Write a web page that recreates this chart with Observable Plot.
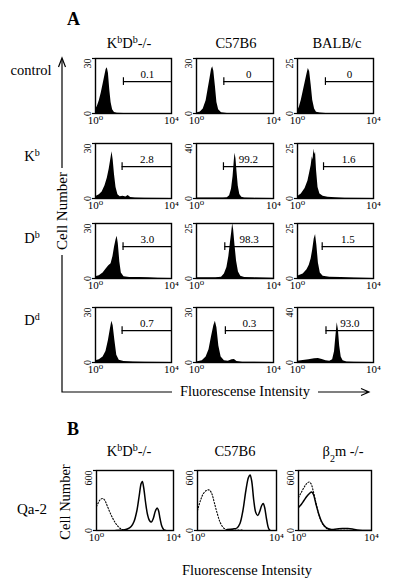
<!DOCTYPE html>
<html>
<head>
<meta charset="utf-8">
<script src="https://cdn.jsdelivr.net/npm/d3@7"></script>
<script src="https://cdn.jsdelivr.net/npm/@observablehq/plot@0.6"></script>
<style>
  body { margin: 0; background: white; }
  #fig { position: relative; width: 400px; height: 582px; background: white;
         font-family: "Liberation Serif", "DejaVu Serif", "Times New Roman", serif; color: black; }
  #ann { position: absolute; left: 0; top: 0; }
  .panel { position: absolute; }
  .panel svg { max-width: none; }
</style>
</head>
<body>
<div id="fig">
<svg id="ann" width="400" height="582" font-family="Liberation Serif, DejaVu Serif, Times New Roman, serif" fill="black">
  <text x="67" y="25" font-size="18" font-weight="bold">A</text>
  <text x="129" y="48" text-anchor="middle" font-size="14.5">K<tspan font-size="10" baseline-shift="super">b</tspan>D<tspan font-size="10" baseline-shift="super">b</tspan>-/-</text>
  <text x="236" y="48" text-anchor="middle" font-size="14.5">C57B6</text>
  <text x="337" y="48" text-anchor="middle" font-size="14.5">BALB/c</text>
  <text x="31" y="75" text-anchor="middle" font-size="14.5">control</text>
  <text x="32" y="161" text-anchor="middle" font-size="14.5">K<tspan font-size="10" baseline-shift="super">b</tspan></text>
  <text x="32" y="243" text-anchor="middle" font-size="14.5">D<tspan font-size="10" baseline-shift="super">b</tspan></text>
  <text x="32" y="325" text-anchor="middle" font-size="14.5">D<tspan font-size="10" baseline-shift="super">d</tspan></text>
  <path d="M62,59 V168 M62,255 V392 H172" stroke="black" stroke-width="1.2" fill="none"/>
  <path d="M58.5,67 L62,58 L65.5,67" stroke="black" stroke-width="1.2" fill="none"/>
  <text transform="translate(67,211) rotate(-90)" text-anchor="middle" font-size="15">Cell Number</text>
  <text x="180" y="396" font-size="14.5">Fluorescense Intensity</text>
  <path d="M318,392 H368 M361,388.5 L369,392 L361,395.5" stroke="black" stroke-width="1.2" fill="none"/>

  <text x="67" y="435" font-size="18" font-weight="bold">B</text>
  <text x="129" y="456" text-anchor="middle" font-size="14.5">K<tspan font-size="10" baseline-shift="super">b</tspan>D<tspan font-size="10" baseline-shift="super">b</tspan>-/-</text>
  <text x="235" y="456" text-anchor="middle" font-size="14.5">C57B6</text>
  <text x="343" y="456" text-anchor="middle" font-size="14.5">β<tspan font-size="10" baseline-shift="sub">2</tspan>m -/-</text>
  <text x="32" y="514" text-anchor="middle" font-size="15">Qa-2</text>
  <text transform="translate(70,502) rotate(-90)" text-anchor="middle" font-size="14.5">Cell Number</text>
  <text x="247" y="575" text-anchor="middle" font-size="14.5">Fluorescense Intensity</text>
</svg>
</div>
<script>
// ---------- Panel A data: x = log10 fluorescence (decades), y = cell number ----------
const strainsA = ["KbDb-/-", "C57B6", "BALB/c"];
const stainsA = ["control", "Kb", "Db", "Dd"];
const yMaxA = [[30, 30, 25], [30, 40, 25], [30, 25, 25], [30, 30, 40]];
const gatePctA = [["0.1", "0", "0"], ["2.8", "99.2", "1.6"], ["3.0", "98.3", "1.5"], ["0.7", "0.3", "93.0"]];
const gateStartA = [[1.47, 1.42, 1.47], [1.4, 1.4, 1.37], [1.45, 1.47, 1.3], [1.4, 1.5, 1.5]];

const hCtrlKbDb = [[0,2],[0.1,4],[0.2,7],[0.3,11],[0.4,16],[0.5,21],[0.56,24],[0.62,25],[0.68,22],[0.75,13],[0.82,6],[0.9,2],[1.0,0.6],[1.15,0.2],[1.5,0],[4,0]];
const hCtrlC57 = [[0,0.3],[0.2,0.8],[0.35,2.5],[0.5,7],[0.6,13],[0.7,19],[0.78,24],[0.84,25.5],[0.9,23],[0.98,15],[1.06,6],[1.15,2],[1.3,0.4],[1.6,0],[4,0]];
const hCtrlBALB = [[0,1],[0.1,3],[0.2,6],[0.3,10],[0.4,14],[0.5,18],[0.57,20.5],[0.64,19],[0.72,13],[0.8,6],[0.9,2],[1.0,0.6],[1.2,0.2],[1.5,0],[4,0]];
const hKbKbDb = [[0,1],[0.2,2],[0.35,3.5],[0.5,7],[0.62,11],[0.72,16],[0.8,21],[0.87,25.5],[0.93,21],[1.0,13],[1.08,6],[1.18,2],[1.3,1],[1.45,1.2],[1.6,0.8],[1.72,1.6],[1.85,0.6],[2.1,0.3],[2.6,0.1],[4,0]];
const hKbC57 = [[0,0.3],[0.8,0.3],[1.4,0.3],[1.6,0.6],[1.72,2],[1.82,7],[1.9,16],[1.96,27],[2.0,33],[2.05,29],[2.1,20],[2.17,9],[2.25,3],[2.35,1],[2.5,0.3],[3,0.1],[4,0]];
const hKbBALB = [[0,0.8],[0.2,2],[0.4,4.5],[0.55,8],[0.65,12],[0.72,15],[0.78,19],[0.82,17.5],[0.86,22.5],[0.9,20],[0.95,21],[1.0,13],[1.08,5],[1.18,2],[1.35,1],[1.6,0.6],[2,0.3],[2.5,0.1],[4,0]];
const hDbKbDb = [[0,1],[0.2,1.5],[0.4,3],[0.55,5],[0.7,7],[0.82,8],[0.92,12],[1.0,17],[1.08,21],[1.14,23],[1.2,19],[1.28,9],[1.36,3],[1.5,1],[1.8,0.6],[2.3,0.5],[2.8,0.4],[3.3,0.2],[4,0]];
const hDbC57 = [[0,0.3],[1.0,0.3],[1.3,0.6],[1.45,2],[1.58,5],[1.68,10],[1.76,16],[1.83,21],[1.88,25],[1.93,22],[2.0,15],[2.08,8],[2.18,3],[2.3,1],[2.5,0.5],[3,0.3],[4,0.1]];
const hDbBALB = [[0,1],[0.3,2],[0.5,4],[0.62,6],[0.72,9],[0.8,13],[0.88,18],[0.95,20],[1.02,15],[1.1,7],[1.2,2.5],[1.35,1],[1.7,0.6],[2.3,0.4],[3,0.2],[4,0]];
const hDdKbDb = [[0,1],[0.2,1.5],[0.4,3],[0.55,6],[0.68,12],[0.78,18],[0.86,22.5],[0.93,20],[1.02,12],[1.12,4],[1.25,1.2],[1.5,0.5],[2,0.3],[2.6,0.1],[4,0]];
const hDdC57 = [[0,0.3],[0.3,1],[0.5,3],[0.65,7],[0.78,14],[0.9,20],[0.98,22.5],[1.06,19],[1.16,9],[1.28,3],[1.45,1],[1.65,0.7],[1.85,1.5],[1.97,1.7],[2.1,0.6],[2.4,0.2],[4,0]];
const hDdBALB = [[0,1],[0.3,1.5],[0.6,2],[0.9,2.7],[1.1,3],[1.3,2.2],[1.5,1.2],[1.7,1],[1.85,2],[1.95,8],[2.02,19],[2.09,29],[2.15,24],[2.22,12],[2.3,4],[2.4,1.2],[2.6,0.4],[3,0.2],[4,0]];

const histA = [
  [hCtrlKbDb, hCtrlC57, hCtrlBALB],
  [hKbKbDb, hKbC57, hKbBALB],
  [hDbKbDb, hDbC57, hDbBALB],
  [hDdKbDb, hDdC57, hDdBALB]
];

// ---------- Panel B data: Qa-2 staining, solid = Qa-2, dotted = control ----------
const strainsB = ["KbDb-/-", "C57B6", "β2m -/-"];
const yMaxB = [600, 600, 600];
const qa2DotKbDb = [[0,240],[0.1,280],[0.2,310],[0.32,320],[0.42,305],[0.55,250],[0.7,180],[0.85,120],[1.0,70],[1.15,35],[1.3,12],[1.45,3],[1.6,0]];
const qa2SolidKbDb = [[1.0,0],[1.4,5],[1.6,15],[1.8,40],[1.95,90],[2.1,200],[2.22,350],[2.32,470],[2.38,490],[2.45,430],[2.55,280],[2.65,160],[2.75,100],[2.85,85],[2.95,120],[3.05,190],[3.15,225],[3.22,200],[3.3,120],[3.4,40],[3.5,8],[3.6,0]];
const qa2DotC57 = [[0,200],[0.15,300],[0.3,370],[0.45,400],[0.6,405],[0.72,370],[0.85,280],[1.0,170],[1.15,80],[1.3,30],[1.45,10],[1.6,5],[2.0,5],[2.3,5]];
const qa2SolidC57 = [[1.5,10],[1.8,15],[2.0,25],[2.15,70],[2.3,200],[2.45,400],[2.58,530],[2.66,555],[2.74,500],[2.85,300],[2.95,180],[3.05,150],[3.15,190],[3.25,250],[3.33,270],[3.4,230],[3.5,110],[3.6,20],[3.68,0]];
const qa2DotB2m = [[0,330],[0.15,380],[0.3,430],[0.45,470],[0.58,485],[0.68,470],[0.8,400],[0.95,280],[1.1,170],[1.25,90],[1.4,45],[1.6,15],[1.8,5],[2.2,3],[3,0]];
const qa2SolidB2m = [[0,230],[0.15,260],[0.3,300],[0.45,340],[0.6,370],[0.72,385],[0.82,360],[0.95,270],[1.1,170],[1.25,95],[1.4,50],[1.6,20],[1.8,10],[2.1,15],[2.4,20],[2.7,20],[2.95,15],[3.2,5],[3.5,0],[4,0]];
const qa2Solid = [qa2SolidKbDb, qa2SolidC57, qa2SolidB2m];
const qa2Dot = [qa2DotKbDb, qa2DotC57, qa2DotB2m];

const xTicks = [0, 4];
const xTickLabels = ["10⁰", "10⁴"];

// ---------- layout ----------
const FONT = '"Liberation Serif","DejaVu Serif","Times New Roman",serif';
const ML = 16, MR = 10, MT = 3, MB = 17;
const colLeftA = [95, 196, 297], colWA = [76, 77, 76];
const rowTopA = [58, 143, 223, 307], HA = 55;
const colLeftB = [96, 197, 298], colWB = [77, 79, 73];
const topB = 470, HB = 60;
const GATE_LEVEL = 0.58;

function histPanel({w, h, ymax, fill, lines = [], gate}) {
  const marks = [];
  if (fill) marks.push(Plot.areaY(fill, {x: p => p[0], y: p => p[1], fill: "black", clip: true}));
  for (const L of lines) {
    marks.push(Plot.line(L.data, {
      x: p => p[0], y: p => p[1], stroke: "black",
      strokeWidth: L.dashed ? 1.1 : 1.5,
      ...(L.dashed ? {strokeDasharray: "1.2,1.8"} : {}),
      curve: "catmull-rom", clip: true
    }));
  }
  marks.push(Plot.frame({stroke: "black", strokeWidth: 1.4}));
  // small outward tick marks at 0 and max on the left edge
  marks.push(Plot.tickY([0, ymax], {y: d => d, stroke: "black", strokeWidth: 1.2, frameAnchor: "left", insetLeft: -3, insetRight: w}));
  if (gate) {
    const g = [{x: gate.x, y: ymax * GATE_LEVEL, pct: gate.pct}];
    marks.push(Plot.ruleY(g, {y: d => d.y, x1: d => d.x, x2: () => 4, stroke: "black", strokeWidth: 1.2}));
    marks.push(Plot.ruleX(g, {x: d => d.x, y1: d => d.y - ymax * 0.07, y2: d => d.y + ymax * 0.07, stroke: "black", strokeWidth: 1.2}));
    marks.push(Plot.text(g, {x: d => (d.x + 4) / 2, y: d => d.y, text: d => d.pct, dy: -7, fontSize: 11, fontFamily: FONT}));
  }
  marks.push(Plot.text([ymax], {y: d => d, text: d => String(d), frameAnchor: "left", dx: -8, rotate: -90, textAnchor: "end", fontSize: 10, fontFamily: FONT}));
  marks.push(Plot.text([0], {y: d => d, text: d => String(d), frameAnchor: "left", dx: -8, rotate: -90, textAnchor: "middle", fontSize: 10, fontFamily: FONT}));
  marks.push(Plot.axisX({ticks: xTicks, tickFormat: d => xTickLabels[xTicks.indexOf(d)], tickSize: 0, tickPadding: 3, fontSize: 11, fontFamily: FONT}));
  return Plot.plot({
    width: w + ML + MR, height: h + MT + MB,
    marginLeft: ML, marginRight: MR, marginTop: MT, marginBottom: MB,
    x: {domain: [0, 4]},
    y: {domain: [0, ymax], axis: null},
    style: {background: "transparent", fontFamily: FONT, fontSize: "11px", color: "black", overflow: "visible"},
    marks
  });
}

const fig = document.getElementById("fig");
function place(svg, left, top) {
  const div = document.createElement("div");
  div.className = "panel";
  div.style.left = left + "px";
  div.style.top = top + "px";
  div.appendChild(svg);
  fig.appendChild(div);
}

stainsA.forEach((stain, r) => {
  strainsA.forEach((strain, c) => {
    const svg = histPanel({
      w: colWA[c], h: HA, ymax: yMaxA[r][c], fill: histA[r][c],
      gate: {x: gateStartA[r][c], pct: gatePctA[r][c]}
    });
    place(svg, colLeftA[c] - ML, rowTopA[r] - MT);
  });
});

strainsB.forEach((strain, c) => {
  const svg = histPanel({
    w: colWB[c], h: HB, ymax: yMaxB[c],
    lines: [{data: qa2Dot[c], dashed: true}, {data: qa2Solid[c], dashed: false}]
  });
  place(svg, colLeftB[c] - ML, topB - MT);
});
</script>
</body>
</html>
